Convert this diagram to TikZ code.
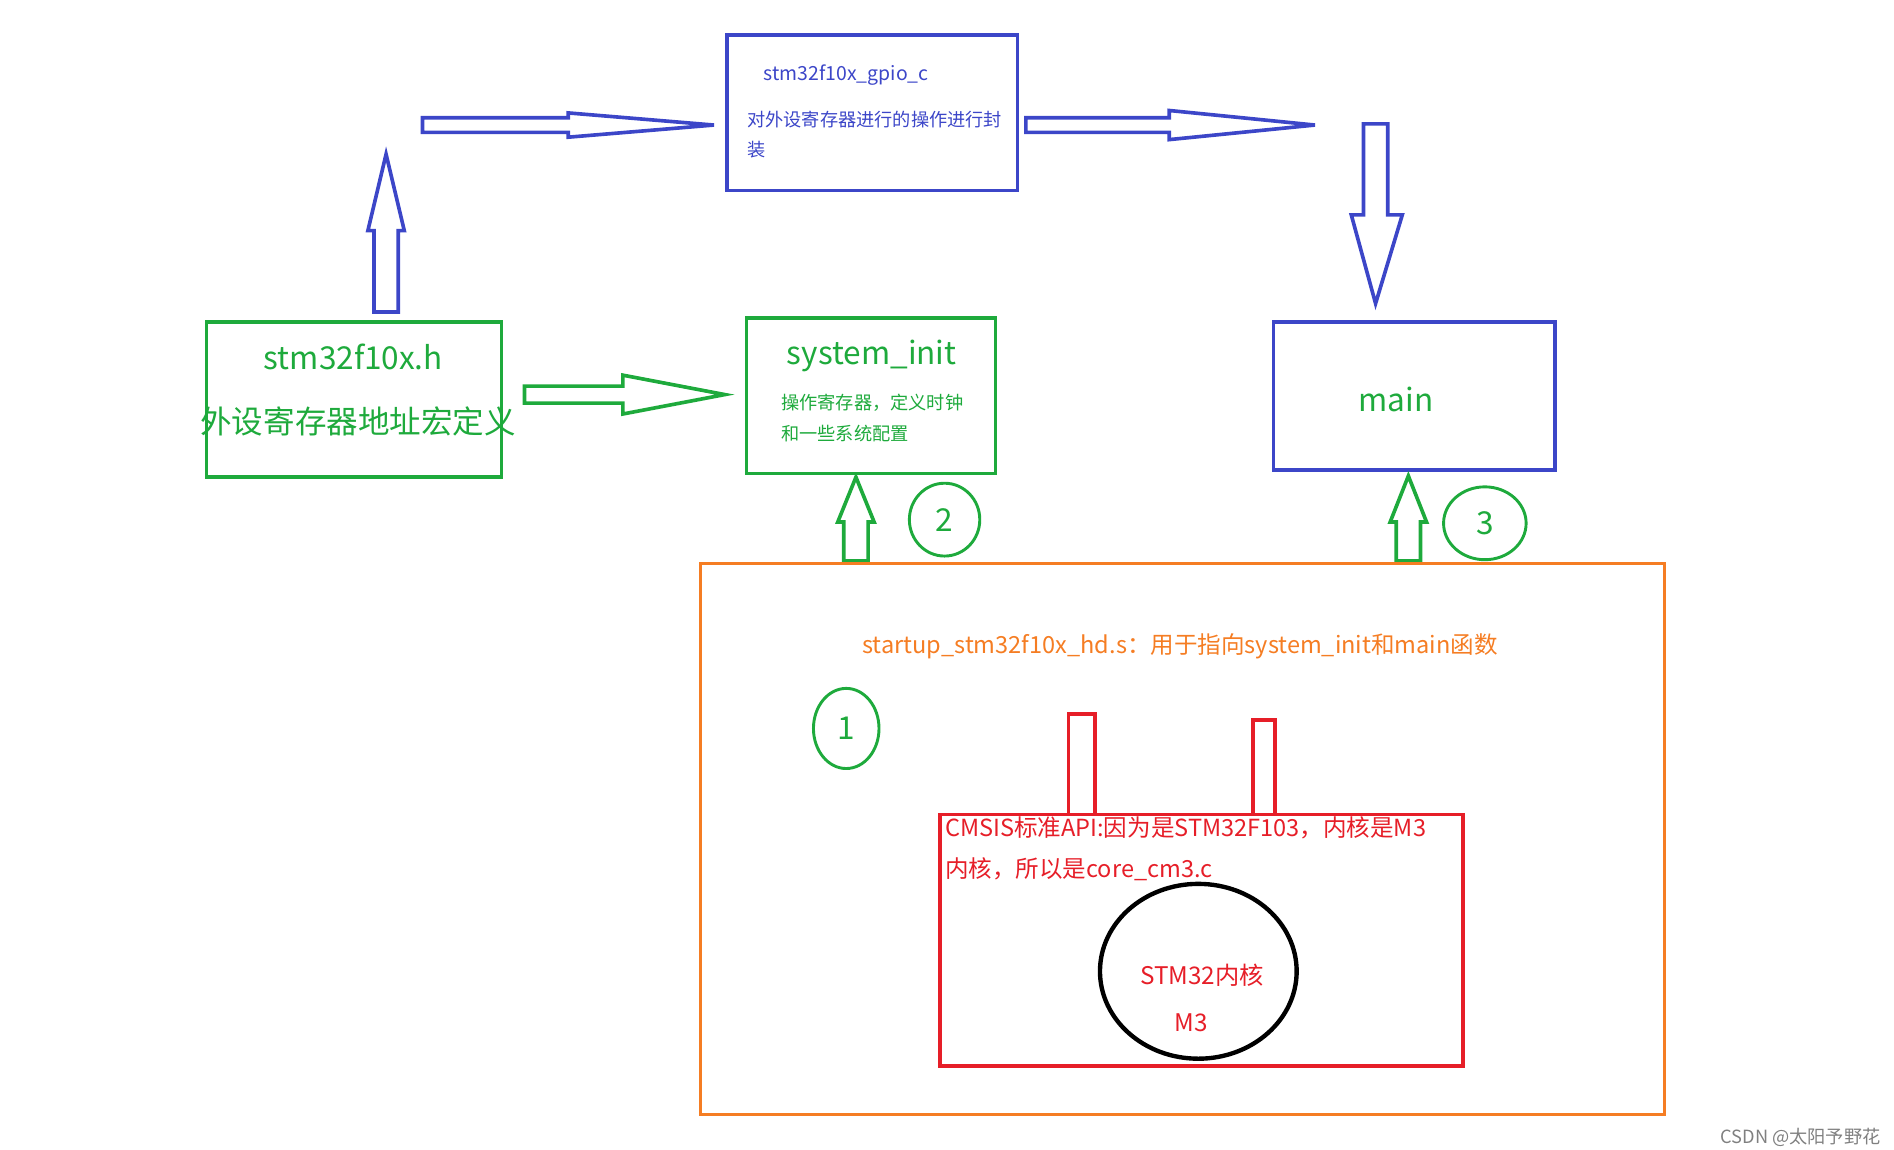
\documentclass[tikz,border=0pt]{standalone}
\usepackage{fontspec}
\usetikzlibrary{shapes.geometric}
\setmainfont{Noto Sans CJK SC}
\definecolor{bl}{RGB}{60,70,200}
\definecolor{gr}{RGB}{30,170,60}
\definecolor{og}{RGB}{245,125,35}
\definecolor{rd}{RGB}{230,30,40}
\begin{document}
\begin{tikzpicture}[x=0.5pt,y=-0.5pt,
 box/.style={draw,line width=1.5pt},
 arr/.style={draw,line width=1.5pt,line join=miter},
 circ/.style={draw=gr,line width=1.2pt,ellipse,text=gr,font=\fontsize{13}{13}\selectfont}]
\useasboundingbox (0,0) rectangle (1560,947);
% blue box
\draw[box,bl] (599,29) rectangle (838,157);
\node[text=bl,font=\fontsize{8}{8}\selectfont] (g1) at (697,62) {stm32f10x\_gpio\_c};
\node[text=bl,font=\fontsize{7.5}{12.5}\selectfont,align=left,anchor=north west,inner sep=0] (g2) at (615,91) {对外设寄存器进行的操作进行封\\装};
% blue arrows
\draw[arr,bl] (348,97)--(468,97)--(468,93)--(588,103)--(468,113)--(468,109)--(348,109)--cycle;
\draw[arr,bl] (845,97)--(963,97)--(963,91)--(1083,103)--(963,115)--(963,109)--(845,109)--cycle;
\draw[arr,bl] (1123,102)--(1143,102)--(1143,177)--(1155,177)--(1133,250)--(1113,177)--(1123,177)--cycle;
\draw[arr,bl] (308,257)--(328,257)--(328,190)--(333,190)--(318,127)--(303,190)--(308,190)--cycle;
% green box h
\draw[box,gr] (170,265) rectangle (413,393);
\node[text=gr,font=\fontsize{13}{13}\selectfont] (h1) at (291,294) {stm32f10x.h};
\node[text=gr,font=\fontsize{13}{13}\selectfont] (h2) at (295,347) {外设寄存器地址宏定义};
\draw[arr,gr] (432,318)--(513,318)--(513,309)--(597,325)--(513,341)--(513,332)--(432,332)--cycle;
% system_init
\draw[box,gr] (615,262) rectangle (820,390);
\node[text=gr,font=\fontsize{13}{13}\selectfont] (s1) at (718,293) {system\_init};
\node[text=gr,font=\fontsize{7.5}{13}\selectfont,align=left,anchor=north west,inner sep=0] (s2) at (643,324) {操作寄存器，定义时钟\\和一些系统配置};
% main
\draw[box,bl] (1049,265) rectangle (1281,387);
\node[text=gr,font=\fontsize{13}{13}\selectfont] (m) at (1150,329) {main};
% green up arrows
\draw[arr,gr] (695,462)--(715,462)--(715,430)--(720,430)--(705,393)--(690,430)--(695,430)--cycle;
\draw[arr,gr] (1150,462)--(1170,462)--(1170,430)--(1175,430)--(1160,392)--(1145,430)--(1150,430)--cycle;
% circles
\node[circ,minimum width=29pt,minimum height=30pt] (c2) at (778,428) {2};
\node[circ,minimum width=34pt,minimum height=30pt] (c3) at (1223,431) {3};
\node[circ,minimum width=27pt,minimum height=33pt] (c1) at (697,600) {1};
% orange
\draw[box,og] (577,464) rectangle (1371,918);
\node[text=og,font=\fontsize{9.7}{10}\selectfont] (o) at (972,532) {startup\_stm32f10x\_hd.s：用于指向system\_init和main函数};
% red
\draw[box,rd] (774,671) rectangle (1205,878);
\draw[box,rd] (880,588) rectangle (902,671);
\draw[box,rd] (1032,593) rectangle (1050,671);
\node[text=rd,font=\fontsize{9.7}{17}\selectfont,align=left,anchor=north west,inner sep=0] (r) at (778,672) {CMSIS标准API:因为是STM32F103，内核是M3\\内核，所以是core\_cm3.c};
\draw[line width=1.8pt] (987,800) ellipse [x radius=81,y radius=72];
\node[text=rd,font=\fontsize{10}{10}\selectfont] (k1) at (990,803) {STM32内核};
\node[text=rd,font=\fontsize{10}{10}\selectfont] (k2) at (981,842) {M3};
\node[text=gray,font=\fontsize{7.5}{8}\selectfont,anchor=east] (w) at (1556,937) {CSDN @太阳予野花};
\end{tikzpicture}
\end{document}
